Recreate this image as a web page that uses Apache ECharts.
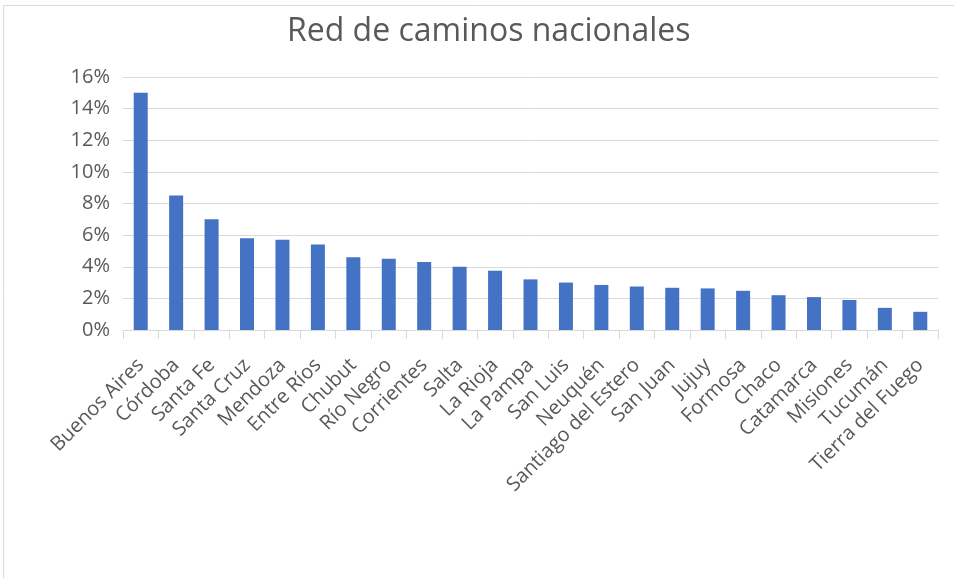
<!DOCTYPE html>
<html>
<head>
<meta charset="utf-8">
<script src="https://cdn.jsdelivr.net/npm/echarts@6/dist/echarts.min.js"></script>
<style>
  html, body { margin: 0; padding: 0; background: #fff; }
  #chart { width: 954px; height: 578px; }
</style>
</head>
<body>
<div id="chart"></div>
<script>
// Share of the national road network by province (%)
const provinces = [
  'Buenos Aires', 'Córdoba', 'Santa Fe', 'Santa Cruz', 'Mendoza', 'Entre Ríos',
  'Chubut', 'Río Negro', 'Corrientes', 'Salta', 'La Rioja', 'La Pampa',
  'San Luis', 'Neuquén', 'Santiago del Estero', 'San Juan', 'Jujuy', 'Formosa',
  'Chaco', 'Catamarca', 'Misiones', 'Tucumán', 'Tierra del Fuego'
];
const share = [
  15.0, 8.5, 7.0, 5.8, 5.7, 5.4,
  4.6, 4.5, 4.3, 4.0, 3.75, 3.2,
  3.0, 2.85, 2.75, 2.67, 2.63, 2.48,
  2.2, 2.08, 1.9, 1.4, 1.15
];
const yTicks = { min: 0, max: 16, step: 2 };

const chart = echarts.init(document.getElementById('chart'));
chart.setOption({
  animation: false,
  backgroundColor: '#ffffff',
  textStyle: { fontFamily: 'Open Sans, sans-serif' },
  graphic: [{
    type: 'rect',
    shape: { x: 3.5, y: 5.5, width: 1000, height: 1000 },
    style: { fill: 'none', stroke: '#d9d9d9', lineWidth: 1 },
    silent: true
  }],
  title: {
    text: 'Red de caminos nacionales',
    left: 282,
    top: 11,
    textStyle: { fontSize: 32, fontWeight: 'normal', color: '#595959', fontFamily: 'Open Sans, sans-serif' }
  },
  grid: { left: 123, right: 16, top: 77, bottom: 248, containLabel: false },
  xAxis: {
    type: 'category',
    data: provinces,
    axisLine: { lineStyle: { color: '#d9d9d9', width: 1 } },
    axisTick: { show: true, length: 9, lineStyle: { color: '#d9d9d9' } },
    axisLabel: {
      rotate: 45, interval: 0, color: '#595959', fontSize: 20, margin: 32,
      fontFamily: 'Open Sans, sans-serif'
    }
  },
  yAxis: {
    type: 'value',
    min: yTicks.min,
    max: yTicks.max,
    interval: yTicks.step,
    axisLine: { show: false },
    axisTick: { show: false },
    splitLine: { lineStyle: { color: '#d9d9d9', width: 1 } },
    axisLabel: {
      formatter: '{value}%', color: '#595959', fontSize: 20, margin: 13,
      fontFamily: 'Open Sans, sans-serif'
    }
  },
  series: [{
    type: 'bar',
    data: share,
    barWidth: 14,
    itemStyle: { color: '#4472c4' }
  }]
});
</script>
</body>
</html>
